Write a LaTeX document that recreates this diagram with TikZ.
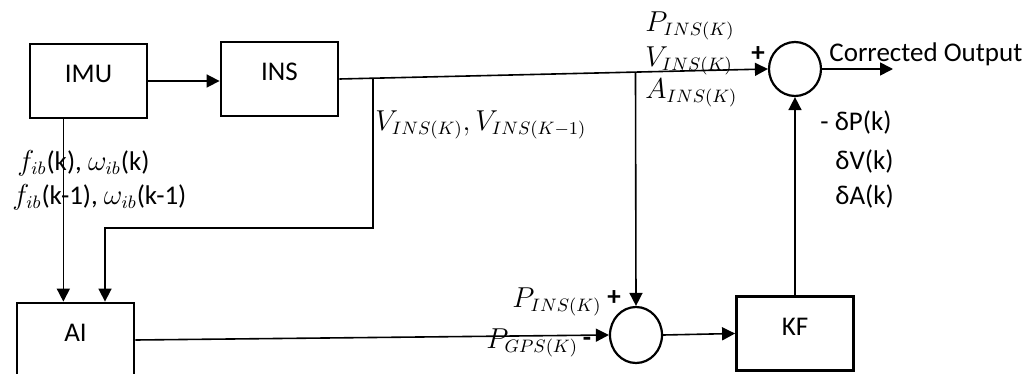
\documentclass[tikz,border=0pt]{standalone}
\usepackage{fontspec}
\setmainfont{Carlito}
\usetikzlibrary{arrows.meta,shapes.geometric,calc}
\newcommand{\mm}[1]{{\fontsize{13.5}{16}\selectfont$#1$}}
\begin{document}
\begin{tikzpicture}[x=0.5pt,y=-0.5pt,
  font=\fontsize{13.5}{16}\selectfont,
  blk/.style={draw,line width=1.4pt,minimum width=58.5pt,minimum height=37pt,inner sep=0pt,text depth=7pt},
  sumnode/.style={draw,ellipse,line width=1.1pt,minimum width=26pt,minimum height=28pt,inner sep=0pt},
  conn/.style={line width=0.8pt},
  arr/.style={conn,-{Triangle[length=6.5pt,width=6.5pt]}},
  lbl/.style={anchor=west,inner sep=0pt},
  sign/.style={inner sep=0pt,font=\fontsize{13.5}{16}\selectfont\bfseries}]
\useasboundingbox (0,0) rectangle (1033,374);
\clip (0,0) rectangle (1033,374);
% blocks
\node[blk] (imu) at (88.5,81) {IMU};
\node[blk] (ins) at (279.5,79) {INS};
\node[blk] (ai) at (75.5,340) {AI};
\node[blk] (kf) at (795,333.5) {KF};
\node[sumnode] (sl) at (636,335) {};
\node[sumnode,minimum height=27pt] (su) at (795,69) {};
\coordinate (out) at (893,69);
\coordinate (c1) at (105,228);
% connectors
\draw[arr] (imu.east) -- (imu.east -| ins.west);
\draw[arr] (ins.east) -- (su.west);
\coordinate (b1) at ($(ins.east)!0.079!(su.west)$);
\coordinate (b2) at ($(ins.east)!0.691!(su.west)$);
\draw[arr] (b1) -- (b1 |- c1) -- (c1) -- (c1 |- ai.north);
\draw[arr] (b2) -- (sl.north);
\coordinate (i1) at ($(imu.south west)!0.29!(imu.south east)$);
\draw[arr] (i1) -- (i1 |- ai.north);
\draw[arr] (ai.east) -- (sl.west);
\draw[arr] (sl.east) -- (kf.west);
\draw[arr] (kf.north) -- (su.south);
\draw[arr] (su.east) -- (out);
% labels
\node[lbl] (cor) at (829,54) {Corrected Output};
\node[lbl] (pins) at (645,26) {\mm{P_{INS(K)}}};
\node[lbl] (vins) at (645,61) {\mm{V_{INS(K)}}};
\node[lbl] (ains) at (645,93) {\mm{A_{INS(K)}}};
\node[lbl] (vv) at (375,125) {\mm{V_{INS(K)},V_{INS(K-1)}}};
\node[lbl] (f1) at (17,163) {\mm{f_{ib}}(k), \mm{\omega_{ib}}(k)};
\node[lbl] (f2) at (12,197) {\mm{f_{ib}}(k-1), \mm{\omega_{ib}}(k-1)};
\node[lbl] (dp) at (820,122) {- δP(k)};
\node[lbl] (dv) at (835,161) {δV(k)};
\node[lbl] (da) at (835,196) {δA(k)};
\node[sign] (plusU) at (758,54) {+};
\node[lbl] (pl) at (512,302) {\mm{P_{INS(K)}}};
\node[sign] (plusL) at (614,298) {+};
\node[lbl] (pg) at (486,343) {\mm{P_{GPS(K)}}};
\node[sign] (minusL) at (587,342) {-};
\end{tikzpicture}
\end{document}
